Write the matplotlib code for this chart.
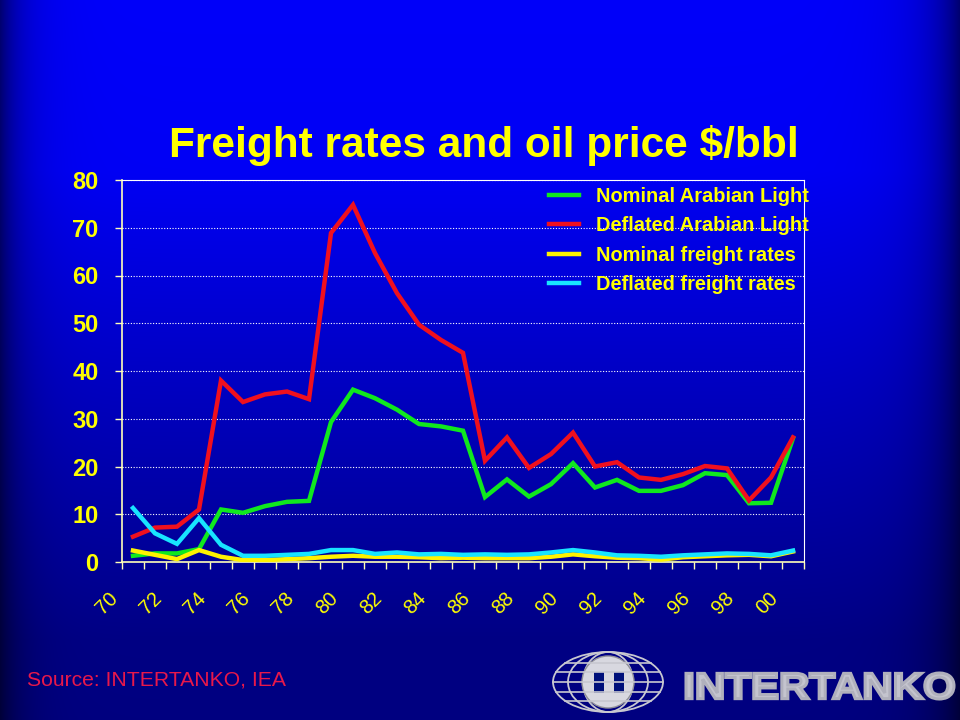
import numpy as np
import matplotlib
matplotlib.use("Agg")
import matplotlib.pyplot as plt
from matplotlib.patches import Ellipse, Rectangle, PathPatch, Circle
from matplotlib.lines import Line2D
from matplotlib.textpath import TextPath
from matplotlib.font_manager import FontProperties
from matplotlib.transforms import Affine2D, ScaledTranslation

# data
years = list(range(1970, 2001))
year_labels = ['70', '72', '74', '76', '78', '80', '82', '84', '86', '88',
               '90', '92', '94', '96', '98', '00']
nominal_al = [1.3, 1.8, 1.8, 2.7, 11.0, 10.3, 11.7, 12.6, 12.8, 29.3, 36.1,
              34.3, 31.9, 28.9, 28.4, 27.5, 13.6, 17.3, 13.7, 16.3, 20.7,
              15.6, 17.2, 14.9, 14.9, 16.1, 18.6, 18.2, 12.3, 12.4, 25.9]
deflated_al = [5.3, 7.2, 7.4, 11.0, 38.0, 33.5, 35.1, 35.7, 34.1, 68.9, 74.8,
               64.7, 56.3, 49.7, 46.5, 43.8, 21.2, 26.1, 19.7, 22.6, 27.1,
               20.0, 20.9, 17.7, 17.2, 18.4, 20.1, 19.6, 12.9, 17.7, 26.1]
nominal_fr = [2.4, 1.5, 0.6, 2.5, 1.1, 0.4, 0.4, 0.6, 0.8, 1.1, 1.3,
              1.1, 1.1, 1.0, 0.8, 0.9, 0.8, 0.8, 0.8, 1.1, 1.6,
              1.2, 0.9, 0.8, 0.5, 1.0, 1.2, 1.4, 1.5, 1.2, 2.2]
deflated_fr = [11.3, 6.0, 3.8, 9.2, 3.6, 1.3, 1.3, 1.5, 1.7, 2.5, 2.5,
               1.7, 2.0, 1.6, 1.7, 1.5, 1.6, 1.5, 1.6, 2.0, 2.5,
               2.0, 1.4, 1.3, 1.1, 1.4, 1.6, 1.8, 1.7, 1.4, 2.4]

series = [
    ('Nominal Arabian Light', nominal_al, '#10E81E'),
    ('Deflated Arabian Light', deflated_al, '#F0101E'),
    ('Nominal freight rates', nominal_fr, '#FFF200'),
    ('Deflated freight rates', deflated_fr, '#18E4FF'),
]

YELLOW = '#FFFF00'
W, H = 960, 720

plt.rcParams['font.family'] = ['Liberation Sans', 'DejaVu Sans']

fig = plt.figure(figsize=(W / 100, H / 100), dpi=100)

# slide background: bright blue at top fading to navy, darker side edges
bg = fig.add_axes([0, 0, 1, 1], zorder=-10)
yy = np.arange(H)[:, None]
xx = np.arange(W)[None, :]
vert = np.interp(yy, [0, 170, 640, 720], [250, 245, 132, 128])
edge = 1 - 0.55 * np.exp(-xx / 22.0) - 0.55 * np.exp(-(W - 1 - xx) / 30.0)
blue = (vert * edge) / 255.0
img = np.zeros((H, W, 3))
img[..., 2] = blue
bg.imshow(img, aspect='auto', extent=(0, W, H, 0))
bg.set_xlim(0, W)
bg.set_ylim(H, 0)
bg.axis('off')

# pixel -> figure helper (y measured from the top)
px = Affine2D().scale(1 / W, -1 / H).translate(0, 1) + fig.transFigure

ax = fig.add_axes([122 / W, 1 - 562 / H, (804 - 122) / W, (562 - 180) / H])
ax.set_facecolor('none')

x = np.arange(len(years))
handles = []
for name, vals, col in series:
    ln, = ax.plot(x, vals, color=col, lw=3.2, solid_joinstyle='miter',
                  label=name, zorder=3)
    handles.append(ln)

ax.set_xlim(-0.5, len(years) - 0.5)
ax.set_ylim(0, 80)
ax.set_yticks(range(0, 81, 10))
ax.yaxis.grid(True, color='white', linestyle=(0, (1, 1.5)), linewidth=0.8)
ax.set_axisbelow(True)

for side in ['top', 'right']:
    ax.spines[side].set_color('white')
    ax.spines[side].set_linewidth(0.8)
for side in ['left', 'bottom']:
    ax.spines[side].set_color('#FFFFB8')
    ax.spines[side].set_linewidth(1.2)

ax.tick_params(axis='y', direction='out', length=5, width=1, color='#FFFFB8',
               labelcolor=YELLOW, labelsize=17, pad=12)
for lab in ax.get_yticklabels():
    lab.set_fontweight('bold')

# category boundary tick marks, labels every other year
ax.set_xticks(np.arange(-0.5, len(years), 1.0), minor=True)
ax.set_xticks(x[::2])
ax.set_xticklabels(year_labels, rotation=45, ha='right', va='top')
ax.tick_params(axis='x', which='minor', direction='out', length=5, width=1,
               color='#FFFFB8')
ax.tick_params(axis='x', which='major', length=0, pad=19,
               labelcolor=YELLOW, labelsize=14.5)
shift = ScaledTranslation(-11 / 100, 0, fig.dpi_scale_trans)
for lab in ax.get_xticklabels():
    lab.set_transform(lab.get_transform() + shift)

leg = fig.legend(handles=handles, loc='upper left',
                 bbox_to_anchor=(549 / W, 1 - 187 / H), frameon=False,
                 prop=FontProperties(family='Liberation Sans', weight='bold',
                                     size=14.4),
                 handlelength=1.5, handletextpad=0.85, labelspacing=0.52,
                 borderpad=0, borderaxespad=0)
for t in leg.get_texts():
    t.set_color(YELLOW)

fig.text(484 / W, 1 - 157 / H, 'Freight rates and oil price $/bbl',
         ha='center', va='baseline', color=YELLOW, fontsize=30.5,
         fontweight='bold')

fig.text(27 / W, 1 - 685 / H, 'Source: INTERTANKO, IEA', ha='left',
         va='baseline', color='#E8184A', fontsize=15.2)

# logo: simple globe and wordmark
silver = '#C8C8D0'
cx, cy = 608, 682
for w in (110, 80, 50):
    fig.add_artist(Ellipse((cx, cy), w, 60, fill=False, ec=silver, lw=1.3,
                           transform=px))
for ly in (663, 672, 682, 692, 701):
    half = 55 * np.sqrt(max(0.0, 1 - ((ly - cy) / 30.0) ** 2))
    fig.add_artist(Line2D([cx - half, cx + half], [ly, ly], color=silver,
                          lw=1.2, transform=px))
fig.add_artist(Circle((cx, cy), 26, fc='#D8D8E0', ec='#909098', lw=1,
                      transform=px))
for rx in (594, 614):
    fig.add_artist(Rectangle((rx, 672), 10, 21, fc='#00107A', ec='none',
                             transform=px))

tp = TextPath((0, 0), 'INTERTANKO', size=1,
              prop=FontProperties(family='Liberation Sans', weight='bold'))
ext = tp.get_extents()
tx0, tx1, ty0, ty1 = 686, 954, 673, 699
word_tr = (Affine2D().translate(-ext.x0, -ext.y0)
           .scale((tx1 - tx0) / ext.width, -(ty1 - ty0) / ext.height)
           .translate(tx0, ty1) + px)
fig.add_artist(PathPatch(tp, fc='#C4C4CE', ec='#B0B0BC', lw=2.2,
                         joinstyle='miter', transform=word_tr))

fig.savefig('out.png', dpi=100)
